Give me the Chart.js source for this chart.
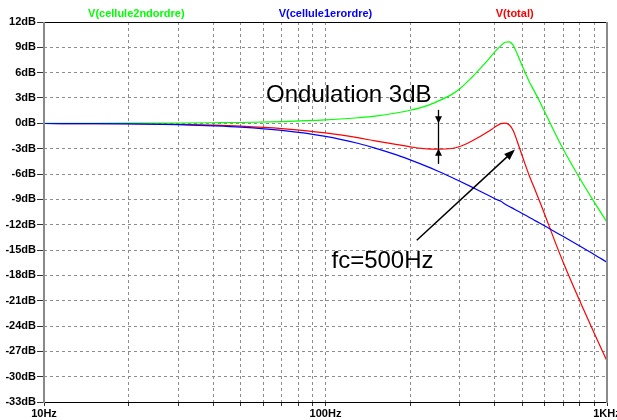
<!DOCTYPE html>
<html><head><meta charset="utf-8">
<script src="https://cdn.jsdelivr.net/npm/chart.js@4"></script>
<style>html,body{margin:0;padding:0;background:#fff}#wrap{width:617px;height:420px;position:relative}</style>
</head><body><div id="wrap"><canvas id="c" width="617" height="420"></canvas></div>
<script>
// ---- data ----
const freqs = [10, 15, 20, 30, 40, 50, 70, 100, 130, 150, 180, 200, 230, 250, 280, 300, 330, 350, 380, 400, 420, 435, 450, 465, 480, 500, 530, 550, 580, 600, 650, 700, 800, 900, 1000];
const cellule2ndOrdre = [0, 0.01, 0.02, 0.04, 0.07, 0.1, 0.2, 0.4, 0.66, 0.85, 1.25, 1.55, 2.1, 2.6, 3.4, 4.1, 5.4, 6.3, 7.6, 8.5, 9.2, 9.6, 9.65, 9.2, 8.2, 6.8, 4.9, 3.9, 2.4, 1.4, -1.0, -3.1, -6.5, -9.3, -11.7];
const cellule1erOrdre = [-0.02, -0.04, -0.07, -0.16, -0.29, -0.44, -0.83, -1.54, -2.36, -2.93, -3.77, -4.33, -5.13, -5.65, -6.38, -6.85, -7.52, -7.95, -8.55, -8.94, -9.23, -9.58, -9.85, -10.1, -10.35, -10.67, -11.14, -11.44, -11.87, -12.14, -12.8, -13.41, -14.52, -15.52, -16.45];
const total = [-0.02, -0.03, -0.05, -0.12, -0.22, -0.34, -0.63, -1.14, -1.7, -2.08, -2.52, -2.78, -3.03, -3.05, -2.98, -2.75, -2.12, -1.65, -0.95, -0.44, -0.03, 0.02, -0.2, -0.9, -2.15, -3.87, -6.24, -7.54, -9.47, -10.74, -13.8, -16.51, -21.02, -24.82, -28.15];
const seriesNames = ['V(cellule2ndordre)', 'V(cellule1erordre)', 'V(total)'];
const seriesColors = ['#00ff00', '#0000ff', '#ff0000'];
const xTickLabels = {10: '10Hz', 100: '100Hz', 1000: '1KHz'};
const xMin = 10, xMax = 1000;
const yMin = -33, yMax = 12, yStep = 3;
// annotations in data coordinates (Hz, dB)
const rippleArrow = {f: 250, from: 1.6, to: -4.8, top: 0, bottom: -3};
const fcArrow = {f1: 211, db1: -13.85, f2: 471, db2: -3.1};
const notes = [
  {text: 'Ondulation 3dB', f: 61.5, db: 2.57},
  {text: 'fc=500Hz', f: 105, db: -17.09}
];

function pts(vals) { return freqs.map((f, i) => ({x: f, y: vals[i]})); }

const tickFont = {family: 'Liberation Sans, Arial, sans-serif', size: 11, weight: 'bold'};
const gridColor = '#8c8c8c';

const framePlugin = {
  id: 'frame',
  afterDraw(chart) {
    const {ctx, chartArea: a} = chart;
    ctx.save();
    ctx.strokeStyle = '#000'; ctx.lineWidth = 1;
    ctx.beginPath();
    ctx.moveTo(a.left, a.top + 0.5); ctx.lineTo(a.right, a.top + 0.5);
    ctx.moveTo(a.left, a.bottom + 0.5); ctx.lineTo(a.right, a.bottom + 0.5);
    ctx.stroke();
    ctx.strokeStyle = '#8a8a8a'; ctx.lineWidth = 2;
    ctx.beginPath();
    ctx.moveTo(a.left, a.top); ctx.lineTo(a.left, a.bottom + 1);
    ctx.moveTo(a.right, a.top); ctx.lineTo(a.right, a.bottom + 1);
    ctx.stroke();
    // series names above the plot
    ctx.font = 'bold 11px "Liberation Sans", Arial, sans-serif';
    ctx.textAlign = 'center'; ctx.textBaseline = 'middle';
    const cx = (a.left + a.right) / 2, w = a.right - a.left;
    seriesNames.forEach((n, i) => {
      ctx.fillStyle = seriesColors[i];
      ctx.fillText(n, cx + (i - 1) * w * 0.336, 14);
    });
    ctx.restore();
  }
};

function head(ctx, x1, y1, x2, y2, len, w) {
  const ang = Math.atan2(y2 - y1, x2 - x1);
  const c = Math.cos(ang), s = Math.sin(ang);
  const bx = x2 - len * c, by = y2 - len * s;
  ctx.beginPath();
  ctx.moveTo(x2, y2);
  ctx.lineTo(bx - s * w / 2, by + c * w / 2);
  ctx.lineTo(bx + s * w / 2, by - c * w / 2);
  ctx.closePath();
  ctx.fill();
}

const annotPlugin = {
  id: 'annot',
  afterDatasetsDraw(chart) {
    const {ctx, scales: {x, y}} = chart;
    ctx.save();
    ctx.fillStyle = '#000'; ctx.strokeStyle = '#000';
    ctx.font = '24px "Liberation Sans", Arial, sans-serif';
    ctx.textAlign = 'left'; ctx.textBaseline = 'alphabetic';
    notes.forEach(n => ctx.fillText(n.text, x.getPixelForValue(n.f), y.getPixelForValue(n.db)));
    // ripple double arrow
    const rx = Math.round(x.getPixelForValue(rippleArrow.f)) + 0.5;
    const yTop = y.getPixelForValue(rippleArrow.from), yBot = y.getPixelForValue(rippleArrow.to);
    const y0 = y.getPixelForValue(rippleArrow.top), y3 = y.getPixelForValue(rippleArrow.bottom);
    ctx.lineWidth = 1.3;
    ctx.beginPath(); ctx.moveTo(rx, yTop); ctx.lineTo(rx, yBot); ctx.stroke();
    head(ctx, rx, yTop, rx, y0, 7, 7);
    head(ctx, rx, yBot, rx, y3, 7, 7);
    // fc arrow
    const ax1 = x.getPixelForValue(fcArrow.f1), ay1 = y.getPixelForValue(fcArrow.db1);
    const ax2 = x.getPixelForValue(fcArrow.f2), ay2 = y.getPixelForValue(fcArrow.db2);
    ctx.lineWidth = 1.5;
    const ang = Math.atan2(ay2 - ay1, ax2 - ax1);
    ctx.beginPath(); ctx.moveTo(ax1, ay1); ctx.lineTo(ax2 - 6 * Math.cos(ang), ay2 - 6 * Math.sin(ang)); ctx.stroke();
    head(ctx, ax1, ay1, ax2, ay2, 11, 8);
    ctx.restore();
  }
};

new Chart(document.getElementById('c'), {
  type: 'line',
  data: {
    datasets: [
      {label: seriesNames[1], data: pts(cellule1erOrdre), borderColor: seriesColors[1]},
      {label: seriesNames[0], data: pts(cellule2ndOrdre), borderColor: seriesColors[0]},
      {label: seriesNames[2], data: pts(total), borderColor: seriesColors[2]}
    ]
  },
  options: {
    responsive: false,
    animation: false,
    devicePixelRatio: 1,
    layout: {padding: {top: 22, right: 10, left: 0, bottom: 0}},
    elements: {
      point: {radius: 0},
      line: {borderWidth: 1.2, cubicInterpolationMode: 'monotone', fill: false}
    },
    plugins: {legend: {display: false}, tooltip: {enabled: false}, title: {display: false}},
    scales: {
      x: {
        type: 'logarithmic', min: xMin, max: xMax, position: 'bottom',
        afterFit(s) { s.height = 18; s.paddingLeft = 0; s.paddingRight = 0; },
        afterBuildTicks(s) {
          const t = [];
          for (let d = xMin; d < xMax; d *= 10) for (let k = 1; k < 10; k++) t.push({value: d * k});
          t.push({value: xMax});
          s.ticks = t;
        },
        ticks: {
          autoSkip: false, maxRotation: 0, minRotation: 0, padding: 1, color: '#000', font: tickFont,
          callback: (v) => (xTickLabels[v] !== undefined ? xTickLabels[v] : '')
        },
        grid: {color: gridColor, lineWidth: 1, tickLength: 4, tickColor: '#333', tickBorderDash: []},
        border: {display: false, dash: [3, 3]}
      },
      y: {
        type: 'linear', min: yMin, max: yMax,
        afterFit(s) { s.width = 44; s.paddingTop = 0; s.paddingBottom = 0; },
        ticks: {stepSize: yStep, padding: 1, color: '#000', font: tickFont, callback: (v) => v + 'dB'},
        grid: {color: gridColor, lineWidth: 1, tickLength: 7, tickColor: '#333', tickBorderDash: []},
        border: {display: false, dash: [3, 3]}
      }
    }
  },
  plugins: [framePlugin, annotPlugin]
});
</script></body></html>
